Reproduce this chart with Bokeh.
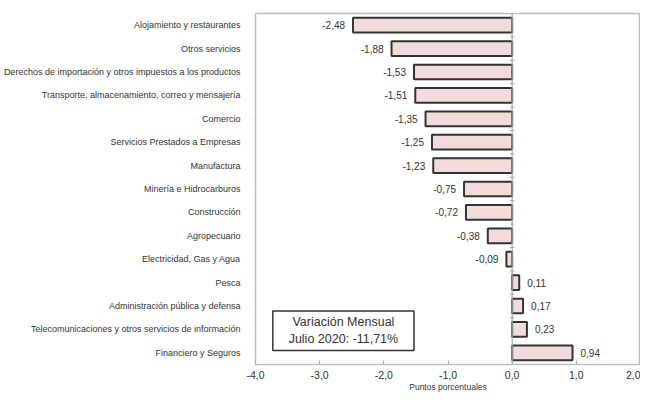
from bokeh.plotting import figure
from bokeh.models import FactorRange, Range1d, Label, Span, FixedTicker, ColumnDataSource, BoxAnnotation
from bokeh.transform import dodge
from bokeh.core.properties import value
from bokeh.embed import file_html
from bokeh.resources import INLINE

categories = [
    "Alojamiento y restaurantes",
    "Otros servicios",
    "Derechos de importación y otros impuestos a los productos",
    "Transporte, almacenamiento, correo y mensajería",
    "Comercio",
    "Servicios Prestados a Empresas",
    "Manufactura",
    "Minería e Hidrocarburos",
    "Construcción",
    "Agropecuario",
    "Electricidad, Gas y Agua",
    "Pesca",
    "Administración pública y defensa",
    "Telecomunicaciones y otros servicios de información",
    "Financiero y Seguros",
]
values = [-2.48, -1.88, -1.53, -1.51, -1.35, -1.25, -1.23, -0.75, -0.72, -0.38, -0.09, 0.11, 0.17, 0.23, 0.94]
x_ticks = [-4, -3, -2, -1, 0, 1, 2]
x_tick_labels = ["-4,0", "-3,0", "-2,0", "-1,0", "0,0", "1,0", "2,0"]
box_lines = ["Variación Mensual", "Julio 2020: -11,71%"]
x_title = "Puntos porcentuales"

FONT = "Liberation Sans"

def fmt(v):
    return f"{v:.2f}".replace(".", ",")

src = ColumnDataSource(dict(cat=categories, val=values, lbl=[fmt(v) for v in values]))
neg = ColumnDataSource(dict(cat=[c for c, v in zip(categories, values) if v < 0],
                            val=[v for v in values if v < 0],
                            lbl=[fmt(v) for v in values if v < 0]))
pos = ColumnDataSource(dict(cat=[c for c, v in zip(categories, values) if v >= 0],
                            val=[v for v in values if v >= 0],
                            lbl=[fmt(v) for v in values if v >= 0]))

p = figure(y_range=FactorRange(factors=categories[::-1]), x_range=Range1d(-4, 2),
           width=640, height=394, output_backend="svg", toolbar_location=None,
           min_border_left=245, min_border_right=0, min_border_top=13, min_border_bottom=28,
           background_fill_color="white", border_fill_color="white")

p.outline_line_color = "#c0c0c0"
p.outline_line_width = 1.5
p.xgrid.grid_line_color = None
p.ygrid.grid_line_color = None

p.add_layout(Span(location=0, dimension="height", line_color="#a8a8a8", line_width=1.2))
tick_src = ColumnDataSource(dict(cat=categories[:-1]))
p.segment(x0=-0.035, x1=0.035, y0=dodge("cat", 0.5, range=p.y_range),
          y1=dodge("cat", 0.5, range=p.y_range), line_color="#a8a8a8", line_width=1, source=tick_src)

p.hbar(y="cat", left=0, right="val", height=0.63, fill_color="#f2dcdb",
       line_color="#333333", line_width=2, source=src)

p.text(x="val", y="cat", text="lbl", x_offset=-8, text_align="right", text_baseline="middle",
       text_font=value(FONT), text_font_size="10px", text_color="#333333", source=neg)
p.text(x="val", y="cat", text="lbl", x_offset=8, text_align="left", text_baseline="middle",
       text_font=value(FONT), text_font_size="10px", text_color="#333333", source=pos)

# annotation box
p.add_layout(BoxAnnotation(left=-3.73, right=-1.53, bottom=0.6, top=2.29,
                           fill_color="white", fill_alpha=1.0,
                           line_color="#333333", line_alpha=1.0, line_width=1.5, level="annotation"))
for yy, t in zip([1.83, 1.1], box_lines):
    p.add_layout(Label(x=-2.63, y=yy, text=t, text_align="center", text_baseline="middle",
                       text_font=FONT, text_font_size="12.5px", text_color="#333333"))

ya = p.yaxis[0]
ya.axis_line_color = None
ya.major_tick_line_color = None
ya.minor_tick_line_color = None
ya.major_label_text_font = FONT
ya.major_label_text_font_size = "9px"
ya.major_label_text_color = "#333333"
ya.major_label_standoff = 9

xa = p.xaxis[0]
xa.ticker = FixedTicker(ticks=x_ticks)
xa.major_label_overrides = dict(zip(x_ticks, x_tick_labels))
xa.axis_line_color = None
xa.major_tick_in = 4
xa.major_tick_out = 0
xa.major_tick_line_color = "#b0b0b0"
xa.minor_tick_line_color = None
xa.major_label_text_font = FONT
xa.major_label_text_font_size = "10.5px"
xa.major_label_text_color = "#333333"
xa.major_label_standoff = 6
xa.axis_label = x_title
xa.axis_label_text_font = FONT
xa.axis_label_text_font_size = "8.5px"
xa.axis_label_text_font_style = "normal"
xa.axis_label_text_color = "#333333"
xa.axis_label_standoff = 0

open("out.html", "w").write(file_html(p, INLINE))
